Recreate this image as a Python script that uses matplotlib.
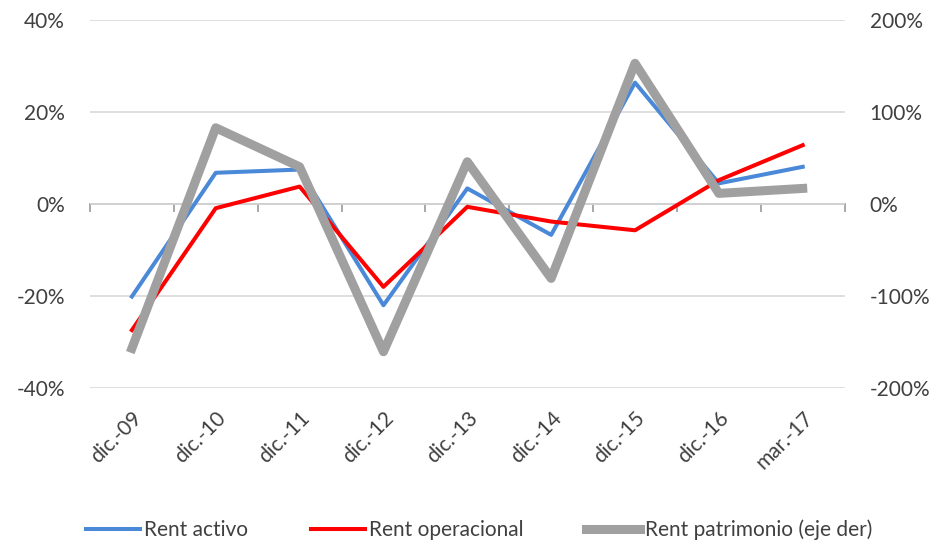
import numpy as np
import matplotlib
matplotlib.use("Agg")
import matplotlib.pyplot as plt
from matplotlib.ticker import PercentFormatter

plt.rcParams['font.family'] = ['Lato', 'DejaVu Sans']
plt.rcParams['axes.unicode_minus'] = False

# data (percent)
periods = ['dic.-09', 'dic.-10', 'dic.-11', 'dic.-12', 'dic.-13',
           'dic.-14', 'dic.-15', 'dic.-16', 'mar.-17']
rent_activo = [-20.1, 6.8, 7.5, -22.0, 3.4, -6.7, 26.4, 4.5, 8.1]
rent_operacional = [-27.4, -0.9, 3.8, -18.0, -0.6, -3.8, -5.7, 5.2, 12.8]
rent_patrimonio = [-156.8, 82.9, 40.5, -160.5, 46.0, -80.8, 153.0, 11.6, 17.0]

txt = '#404040'
fs = 15

fig = plt.figure(figsize=(9.41, 5.42), dpi=100)
ax = fig.add_axes([0.0956, 0.284, 0.802, 0.679])
x = np.arange(len(periods))

l1, = ax.plot(x, rent_activo, color='#4a88d8', lw=2.9, label='Rent activo')
l2, = ax.plot(x, rent_operacional, color='#ff0000', lw=2.9, label='Rent operacional')

ax.set_xlim(-0.5, len(periods) - 0.5)
ax.set_ylim(-40, 40)
ax.set_yticks([-40, -20, 0, 20, 40])
ax.yaxis.set_major_formatter(PercentFormatter(decimals=0))
ax.grid(axis='y', color='#d9d9d9', lw=1.2)
ax.set_axisbelow(True)
for s in ax.spines.values():
    s.set_visible(False)
ax.tick_params(axis='y', length=0, labelsize=fs, labelcolor=txt, pad=18)
ax.set_xticks(x)
ax.set_xticklabels(periods, rotation=45, ha='right', rotation_mode='anchor')
ax.tick_params(axis='x', length=0, labelsize=fs, labelcolor=txt, pad=14)

# zero axis line with category boundary ticks
sec = ax.secondary_xaxis(0.5)
sec.set_xticks(np.arange(len(periods) + 1) - 0.5)
sec.set_xticklabels([])
sec.tick_params(axis='x', direction='in', length=6, width=1.2, color='#999999')
for s in sec.spines.values():
    s.set_color('#999999')
    s.set_linewidth(1.2)

ax2 = ax.twinx()
l3, = ax2.plot(x, rent_patrimonio, color='#a0a0a0', lw=6.5, label='Rent patrimonio (eje der)')
ax2.set_ylim(-200, 200)
ax2.set_yticks([-200, -100, 0, 100, 200])
ax2.yaxis.set_major_formatter(PercentFormatter(decimals=0))
for s in ax2.spines.values():
    s.set_visible(False)
ax2.tick_params(axis='y', length=0, labelsize=fs, labelcolor=txt, pad=18)

fig.legend(handles=[l1, l2, l3], loc='center', bbox_to_anchor=(0.509, 0.022), ncol=3,
           frameon=False, fontsize=fs, labelcolor=txt, handlelength=2.6,
           handletextpad=0.2, columnspacing=3.0)

fig.savefig('out.png', dpi=100)
